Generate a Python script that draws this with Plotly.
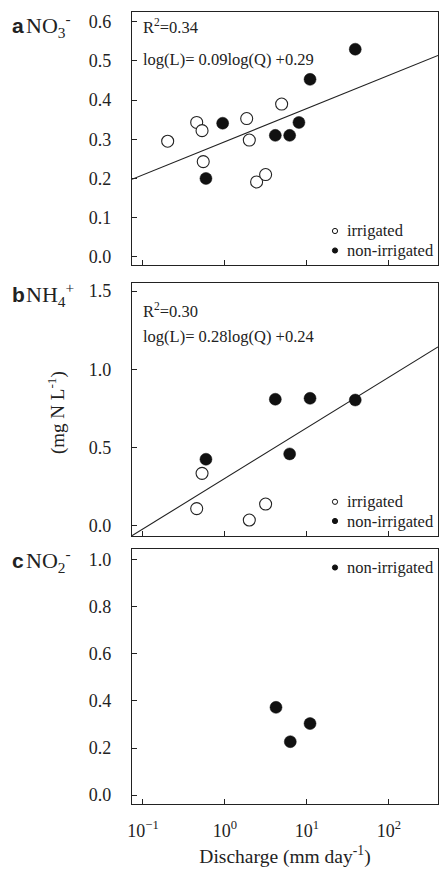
import plotly.graph_objects as go

# ---------------- data ----------------
a_irr_x = [0.20, 0.452, 0.525, 0.543, 1.84, 1.98, 2.43, 3.13, 4.91]
a_irr_y = [0.295, 0.343, 0.322, 0.243, 0.353, 0.298, 0.191, 0.210, 0.390]
a_non_x = [0.586, 0.937, 4.11, 6.15, 7.98, 10.9, 38.8]
a_non_y = [0.200, 0.341, 0.310, 0.310, 0.343, 0.453, 0.530]
a_fit_x = [0.0734, 396]
a_fit_y = [0.198, 0.514]

b_irr_x = [0.452, 0.525, 1.98, 3.13]
b_irr_y = [0.111, 0.336, 0.038, 0.140]
b_non_x = [0.586, 4.11, 6.15, 10.9, 38.8]
b_non_y = [0.426, 0.809, 0.460, 0.815, 0.804]
b_fit_x = [0.0734, 396]
b_fit_y = [-0.062, 1.143]

c_non_x = [4.19, 6.26, 10.9]
c_non_y = [0.373, 0.227, 0.304]

x_tickvals = [0.1, 1, 10, 100]
x_ticktext = ["10<sup>\u22121</sup>", "10<sup>0</sup>", "10<sup>1</sup>", "10<sup>2</sup>"]
a_yticks = [0.0, 0.1, 0.2, 0.3, 0.4, 0.5, 0.6]
b_yticks = [0.0, 0.5, 1.0, 1.5]
c_yticks = [0.0, 0.2, 0.4, 0.6, 0.8, 1.0]

# ---------------- styling ----------------
W, H = 439, 872
ML, MR, MT, MB = 132, 1, 12, 68
PW, PH = W - ML - MR, H - MT - MB
SERIF = "Liberation Serif"
SANS = "Liberation Sans"
INK = "#222222"


def px(xp):
    return (xp - ML) / PW


def py(yp):
    return (H - MB - yp) / PH


fig = go.Figure()


def add_open(x, y, xa, ya):
    fig.add_trace(go.Scatter(x=x, y=y, mode="markers", xaxis=xa, yaxis=ya, showlegend=False,
                             marker=dict(symbol="circle", size=12, color="white",
                                         line=dict(color=INK, width=1.1))))


def add_filled(x, y, xa, ya):
    fig.add_trace(go.Scatter(x=x, y=y, mode="markers", xaxis=xa, yaxis=ya, showlegend=False,
                             marker=dict(symbol="circle", size=12, color="#111111",
                                         line=dict(color="#111111", width=0.5))))


def add_fit(x, y, xa, ya):
    fig.add_trace(go.Scatter(x=x, y=y, mode="lines", xaxis=xa, yaxis=ya, showlegend=False,
                             line=dict(color=INK, width=1.1), cliponaxis=True))


add_fit(a_fit_x, a_fit_y, "x", "y")
add_open(a_irr_x, a_irr_y, "x", "y")
add_filled(a_non_x, a_non_y, "x", "y")

add_fit(b_fit_x, b_fit_y, "x2", "y2")
add_open(b_irr_x, b_irr_y, "x2", "y2")
add_filled(b_non_x, b_non_y, "x2", "y2")

add_filled(c_non_x, c_non_y, "x3", "y3")

xrange = [-1.134, 2.598]
tickfont = dict(family=SERIF, size=18, color=INK)


def xaxis(anchor, show_labels):
    d = dict(type="log", range=xrange, anchor=anchor, domain=[0, 1],
             tickvals=x_tickvals, ticktext=x_ticktext, ticks="inside", ticklen=5,
             tickwidth=1, tickcolor=INK, showline=True, linecolor=INK, linewidth=1.2,
             mirror=True, showgrid=False, zeroline=False, showticklabels=show_labels,
             tickfont=tickfont, ticklabelstandoff=10)
    return d


def yaxis(anchor, dom, rng, ticks):
    return dict(range=rng, anchor=anchor, domain=dom, tickvals=ticks, tickformat=".1f",
                ticks="inside", ticklen=5, tickwidth=1, tickcolor=INK, showline=True,
                linecolor=INK, linewidth=1.2, mirror=True, showgrid=False, zeroline=False,
                tickfont=tickfont, ticklabelstandoff=16)


fig.update_layout(
    width=W, height=H, margin=dict(l=ML, r=MR, t=MT, b=MB),
    paper_bgcolor="white", plot_bgcolor="white",
    font=dict(family=SERIF, size=16, color=INK),
    xaxis=xaxis("y", False),
    xaxis2=xaxis("y2", False),
    xaxis3=dict(xaxis("y3", True),
                title=dict(text="Discharge (mm day<sup>-1</sup>)",
                           font=dict(family=SERIF, size=19.5, color=INK), standoff=9)),
    yaxis=yaxis("x", [py(265), py(12)], [-0.021, 0.625], a_yticks),
    yaxis2=yaxis("x2", [py(536), py(282.7)], [-0.064, 1.553], b_yticks),
    yaxis3=yaxis("x3", [py(804), py(549.3)], [-0.038, 1.045], c_yticks),
    showlegend=False,
)

ann = []


def text(xp, yp, s, size=16.5, family=SERIF, xanchor="left", angle=0):
    ann.append(dict(x=px(xp), y=py(yp), xref="paper", yref="paper", text=s, showarrow=False,
                    xanchor=xanchor, yanchor="middle", textangle=angle, borderpad=0,
                    font=dict(family=family, size=size, color=INK)))


# panel labels
text(11, 26, "<b>a</b>", size=21, family=SANS)
text(25, 26, "NO<sub>3</sub><sup>-</sup>", size=22)
text(11, 294, "<b>b</b>", size=21, family=SANS)
text(25, 294, "NH<sub>4</sub><sup>+</sup>", size=22)
text(11, 560, "<b>c</b>", size=21, family=SANS)
text(25, 560, "NO<sub>2</sub><sup>-</sup>", size=22)

# equations
text(142, 27, "R<sup>2</sup>=0.34")
text(142, 60, "log(L)= 0.09log(Q) +0.29")
text(142, 310, "R<sup>2</sup>=0.30")
text(142, 336, "log(L)= 0.28log(Q) +0.24")

# y title
text(57, 413, "(mg N L<sup>-1</sup>)", size=19, xanchor="center", angle=-90)

# legends (manual, small symbols)
shapes = []


def dot(xp, yp, filled):
    shapes.append(dict(type="circle", xref="paper", yref="paper", xsizemode="pixel",
                       ysizemode="pixel", xanchor=px(xp), yanchor=py(yp),
                       x0=-2.6, x1=2.6, y0=-2.6, y1=2.6,
                       fillcolor="#111111" if filled else "white",
                       line=dict(color="#111111", width=1)))


for (yo, yf) in [(231.0, 250.5), (501.8, 521.0)]:
    dot(335, yo, False)
    text(346, yo, "irrigated")
    dot(335, yf, True)
    text(346, yf, "non-irrigated")
dot(335, 567.5, True)
text(346, 567.5, "non-irrigated")

fig.update_layout(annotations=ann, shapes=shapes)
fig.write_html("out.html", config={"displayModeBar": False},
               post_script="document.body.style.margin='0';document.body.style.padding='0';")
